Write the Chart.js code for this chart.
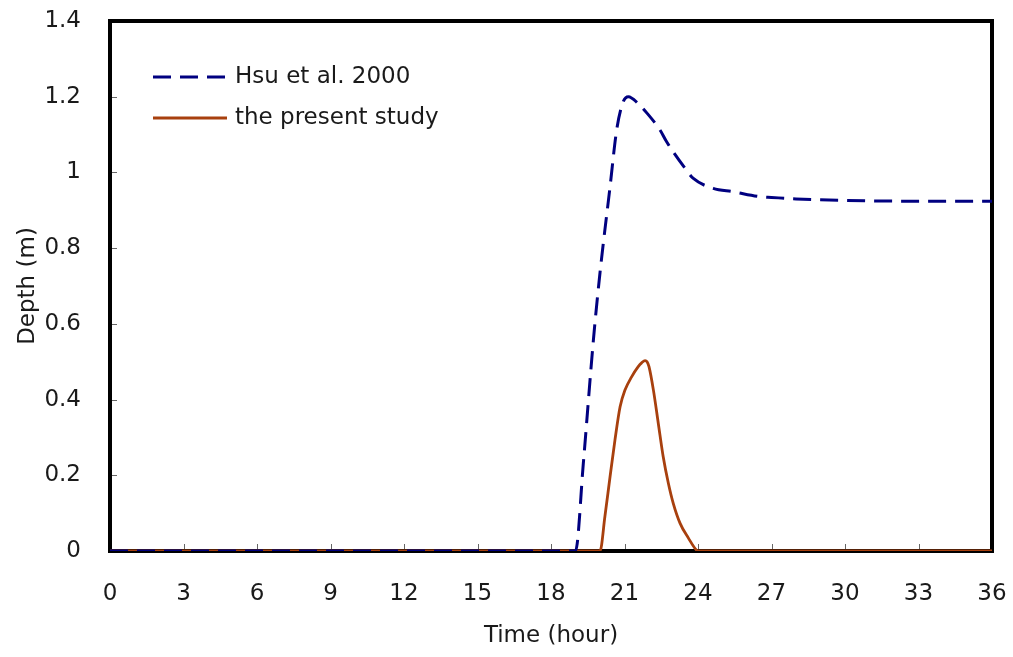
<!DOCTYPE html>
<html>
<head>
<meta charset="utf-8">
<script src="https://cdn.jsdelivr.net/npm/chart.js@4/dist/chart.umd.min.js"></script>
<style>
html,body{margin:0;padding:0;background:#fff;}
#wrap{width:1013px;height:657px;}
</style>
</head>
<body>
<div id="wrap"><canvas id="c" width="1013" height="657"></canvas></div>
<script>
const seriesNames = ["Hsu et al. 2000", "the present study"];
const hsuTime  = [0,1,2,3,4,5,6,7,8,9,10,11,12,13,14,15,16,17,18,19.0,19.32,19.73,20.0,20.41,20.68,20.95,21.16,21.57,21.9,22.45,22.72,23.47,23.81,24.62,25.44,26.53,27,28,30,33,36];
const hsuDepth = [0,0,0,0,0,0,0,0,0,0,0,0,0,0,0,0,0,0,0,0,0.232,0.557,0.735,0.962,1.112,1.187,1.2,1.181,1.158,1.112,1.081,1.011,0.984,0.958,0.949,0.936,0.934,0.930,0.926,0.924,0.924];
const presTime  = [0,1,2,3,4,5,6,7,8,9,10,11,12,13,14,15,16,17,18,19,20.0,20.2,20.41,20.61,20.82,21.02,21.29,21.56,21.7,21.84,21.92,22.0,22.18,22.38,22.58,22.79,22.99,23.27,23.61,23.94,24,25,26,27,28,29,30,31,32,33,34,35,36];
const presDepth = [0,0,0,0,0,0,0,0,0,0,0,0,0,0,0,0,0,0,0,0,0,0.091,0.196,0.293,0.381,0.425,0.46,0.487,0.497,0.503,0.5,0.487,0.425,0.337,0.249,0.179,0.126,0.073,0.034,0.002,0,0,0,0,0,0,0,0,0,0,0,0,0];
const xTicks = [0,3,6,9,12,15,18,21,24,27,30,33,36];
const yTicks = [0,0.2,0.4,0.6,0.8,1,1.2,1.4];

const FONT = "'DejaVu Sans', sans-serif";
const colors = ["#000080", "#A8400E"];

const toPts = (xs, ys) => xs.map((x, i) => ({x: x, y: ys[i]}));

const framePlugin = {
  id: 'frame',
  beforeDatasetsDraw(chart) {
    const {ctx, chartArea: a, scales} = chart;
    ctx.save();
    ctx.strokeStyle = '#666';
    ctx.lineWidth = 1;
    xTicks.forEach(v => {
      const px = Math.round(scales.x.getPixelForValue(v)) + 0.5;
      ctx.beginPath(); ctx.moveTo(px, a.bottom); ctx.lineTo(px, a.bottom - 7); ctx.stroke();
    });
    yTicks.forEach(v => {
      const py = Math.round(scales.y.getPixelForValue(v)) + 0.5;
      ctx.beginPath(); ctx.moveTo(a.left, py); ctx.lineTo(a.left + 7, py); ctx.stroke();
    });
    ctx.strokeStyle = '#000';
    ctx.lineWidth = 4;
    ctx.strokeRect(a.left, a.top, a.right - a.left, a.bottom - a.top);
    ctx.restore();
  },
  afterDraw(chart) {
    const {ctx} = chart;
    ctx.save();
    const rows = [77, 118];
    chart.data.datasets.forEach((ds, i) => {
      ctx.strokeStyle = ds.borderColor;
      ctx.lineWidth = ds.borderWidth;
      ctx.setLineDash(ds.borderDash || []);
      ctx.beginPath(); ctx.moveTo(153, rows[i]); ctx.lineTo(227, rows[i]); ctx.stroke();
      ctx.setLineDash([]);
      ctx.fillStyle = '#1a1a1a';
      ctx.font = '23px ' + FONT;
      ctx.textBaseline = 'middle';
      ctx.textAlign = 'left';
      ctx.fillText(ds.label, 235, rows[i]);
    });
    ctx.restore();
  }
};

new Chart(document.getElementById('c'), {
  type: 'scatter',
  data: {
    datasets: [
      {label: seriesNames[0], data: toPts(hsuTime, hsuDepth), showLine: true, borderColor: colors[0], backgroundColor: colors[0], borderWidth: 3, borderDash: [18, 9], pointRadius: 0, cubicInterpolationMode: 'monotone'},
      {label: seriesNames[1], data: toPts(presTime, presDepth), showLine: true, borderColor: colors[1], backgroundColor: colors[1], borderWidth: 2.8, pointRadius: 0, cubicInterpolationMode: 'monotone'}
    ]
  },
  plugins: [framePlugin],
  options: {
    responsive: false,
    animation: false,
    layout: {padding: {left: 0, top: 21, right: 21, bottom: 7}},
    plugins: {legend: {display: false}, tooltip: {enabled: false}},
    scales: {
      x: {
        type: 'linear', min: 0, max: 36,
        afterBuildTicks(s) { s.ticks = xTicks.map(v => ({value: v})); },
        afterFit(s) { s.height = 99; s.paddingLeft = 0; s.paddingRight = 0; },
        grid: {display: false, drawTicks: false},
        border: {display: false},
        ticks: {color: '#1a1a1a', font: {family: FONT, size: 23}, padding: 29, maxRotation: 0},
        title: {display: true, text: 'Time (hour)', color: '#1a1a1a', font: {family: FONT, size: 23}, padding: {top: 8, bottom: 0}}
      },
      y: {
        type: 'linear', min: 0, max: 1.4,
        afterBuildTicks(s) { s.ticks = yTicks.map(v => ({value: v})); },
        afterFit(s) { s.width = 110; s.paddingTop = 0; s.paddingBottom = 0; },
        grid: {display: false, drawTicks: false},
        border: {display: false},
        ticks: {color: '#1a1a1a', font: {family: FONT, size: 23}, padding: 29, callback: v => String(Number(v.toFixed(1)))},
        title: {display: true, text: 'Depth (m)', color: '#1a1a1a', font: {family: FONT, size: 23}, padding: {top: 14, bottom: 0}}
      }
    }
  }
});
</script>
</body>
</html>
